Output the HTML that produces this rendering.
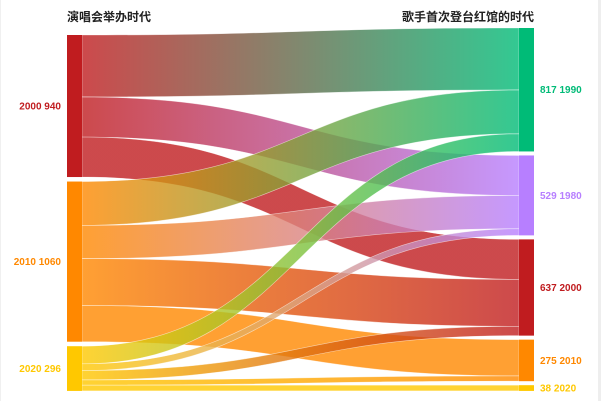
<!DOCTYPE html>
<html><head><meta charset="utf-8">
<style>
html,body{margin:0;padding:0;background:#fff;}
#wrap{position:relative;width:601px;height:401px;overflow:hidden;background:#fff;}
svg text{font-family:"Liberation Sans","Noto Sans CJK SC",sans-serif;font-weight:bold;}
</style></head>
<body>
<div id="wrap">
<div style="position:absolute;left:598px;top:0;width:3px;height:401px;background:#eeeeee"></div>
<div style="position:absolute;left:0;top:0;width:1px;height:401px;background:#f0f0f0"></div>
<svg id="chart" width="601" height="401" style="position:absolute;left:0;top:0">
<defs id="defs"></defs>
<text x="67" y="21" font-size="12" fill="#222">演唱会举办时代</text>
<text x="534" y="21" font-size="12" fill="#222" text-anchor="end">歌手首次登台红馆的时代</text>
</svg>
</div>
<script>
const leftNames = ["2000","2010","2020"];
const leftValues = [940,1060,296];
const leftColors = ["#c01c1f","#ff8800","#ffc800"];
const rightNames = ["1990","1980","2000","2010","2020"];
const rightValues = [817,529,637,275,38];
const rightColors = ["#00bb77","#b77fff","#c01c1f","#ff8800","#ffc800"];
const linkSource = [0,0,0,1,1,1,1,2,2,2,2,2];
const linkTarget = [0,1,2,0,1,2,3,0,1,2,3,4];
const linkValue  = [410,265,265,290,220,310,240,117,44,62,35,38];

const svg = document.getElementById('chart');
const defs = document.getElementById('defs');
const NS = 'http://www.w3.org/2000/svg';
const k = 0.1511;
const LX0 = 67, LX1 = 82, RX0 = 519, RX1 = 534;
const leftTop = 35, leftGap = 4.5, rightTop = 28, rightGap = 4;

const lY = [], rY = [];
let y = leftTop;
leftValues.forEach((v,i)=>{ lY.push(y); y += v*k + leftGap; });
y = rightTop;
rightValues.forEach((v,i)=>{ rY.push(y); y += v*k + rightGap; });

const lOff = lY.slice(), rOff = rY.slice();
const linkG = document.createElementNS(NS,'g');


svg.appendChild(linkG);
linkValue.forEach((v,i)=>{
  const s = linkSource[i], t = linkTarget[i], h = v*k;
  const y0 = lOff[s], y1 = rOff[t];
  lOff[s] += h; rOff[t] += h;
  const gid = 'g'+i;
  const g = document.createElementNS(NS,'linearGradient');
  g.setAttribute('id',gid);
  g.setAttribute('x1','0');g.setAttribute('x2','1');g.setAttribute('y1','0');g.setAttribute('y2','0');
  const a = document.createElementNS(NS,'stop'); a.setAttribute('offset','0'); a.setAttribute('stop-color',leftColors[s]);
  const b = document.createElementNS(NS,'stop'); b.setAttribute('offset','1'); b.setAttribute('stop-color',rightColors[t]);
  g.appendChild(a); g.appendChild(b); defs.appendChild(g);
  const xm = (LX1+RX0)/2;
  const d = `M${LX1},${y0} C${xm},${y0} ${xm},${y1} ${RX0},${y1} L${RX0},${y1+h} C${xm},${y1+h} ${xm},${y0+h} ${LX1},${y0+h} Z`;
  const p = document.createElementNS(NS,'path');
  p.setAttribute('d',d);
  p.setAttribute('fill','url(#'+gid+')');
  p.setAttribute('fill-opacity','0.8');
  p.setAttribute('stroke','#fff');
  p.setAttribute('stroke-width','0.6');
  p.setAttribute('stroke-opacity','0.6');
  
  
  linkG.appendChild(p);
});

function node(x0,x1,y0,h,color,name,label,side){
  const r = document.createElementNS(NS,'rect');
  r.setAttribute('x',x0); r.setAttribute('y',y0); r.setAttribute('width',x1-x0); r.setAttribute('height',h);
  r.setAttribute('fill',color);
  
  
  svg.appendChild(r);
  const tx = document.createElementNS(NS,'text');
  tx.setAttribute('font-size','10');
  tx.setAttribute('fill',color);
  tx.setAttribute('y',y0+h/2+3.5);
  if(side==='left'){ tx.setAttribute('x',x0-6); tx.setAttribute('text-anchor','end'); }
  else { tx.setAttribute('x',x1+6); }
  tx.textContent = label;
  
  
  svg.appendChild(tx);
}
leftValues.forEach((v,i)=>node(LX0,LX1,lY[i],v*k,leftColors[i],'source-node-'+leftNames[i],leftNames[i]+' '+v,'left'));
rightValues.forEach((v,i)=>node(RX0,RX1,rY[i],v*k,rightColors[i],'target-node-'+rightNames[i],v+' '+rightNames[i],'right'));
</script>
</body></html>
